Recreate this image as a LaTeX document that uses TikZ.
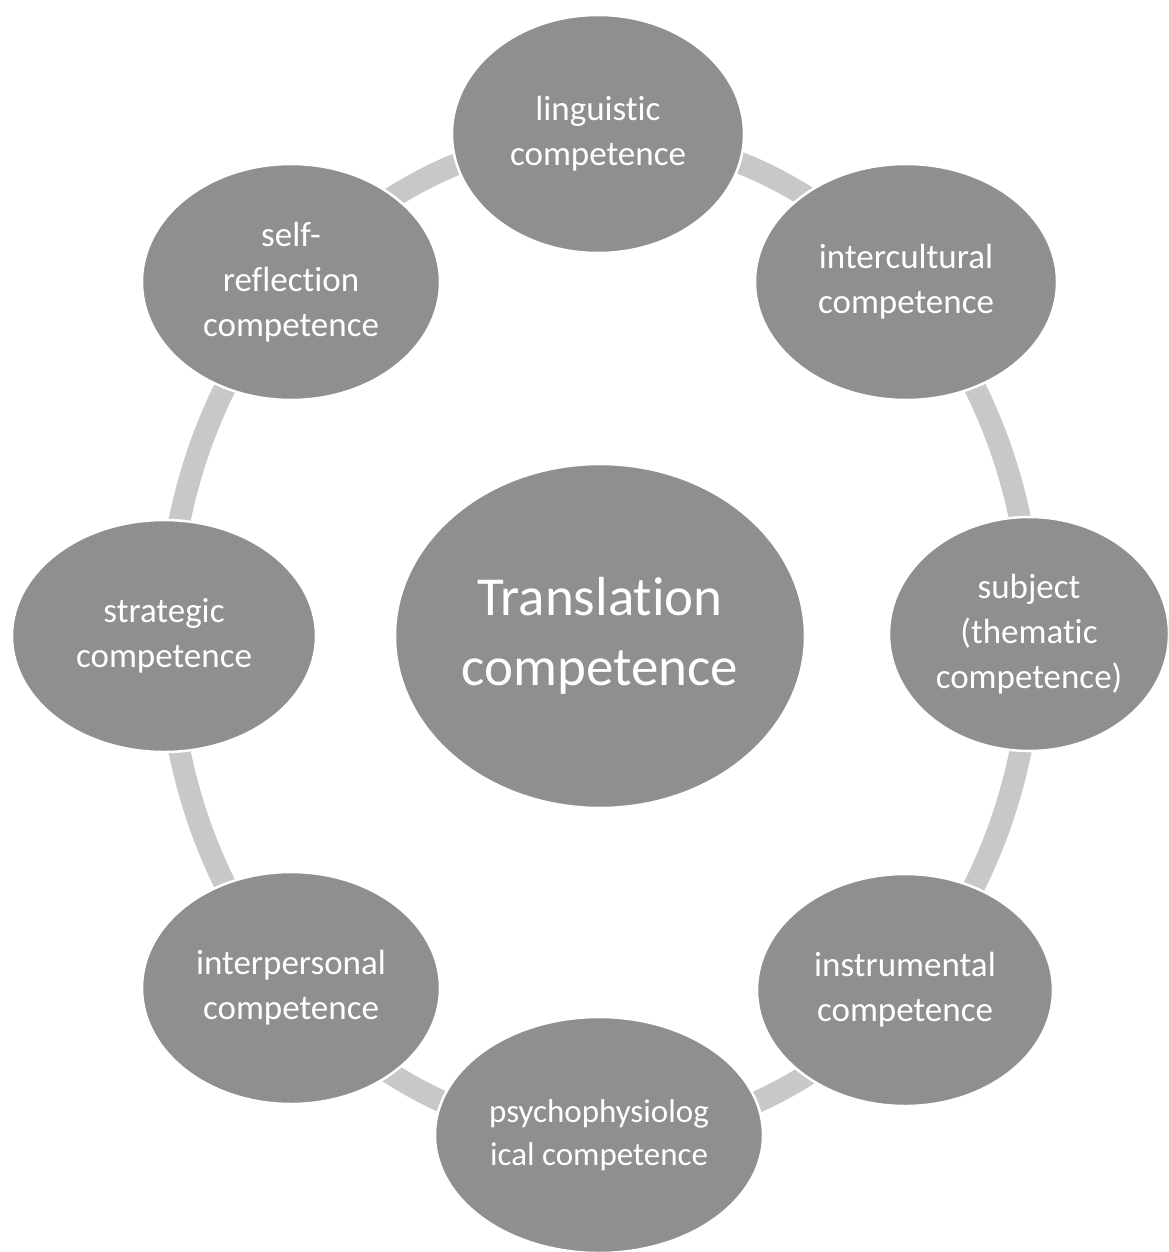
\documentclass[tikz,border=0pt]{standalone}
\usepackage{fontspec}
\setmainfont[Ligatures=NoCommon,RawFeature={-liga;-dlig;-clig}]{Carlito}
\usetikzlibrary{shapes.geometric,backgrounds}
\definecolor{nodefill}{HTML}{8F8F8F}
\definecolor{ringgray}{HTML}{C8C8C8}
\begin{document}
\begin{tikzpicture}[x=1pt,y=-1pt,
  comp/.style={ellipse, fill=nodefill, draw=white, line width=2.5pt, text=white,
    align=center, inner sep=0pt, font=\fontsize{35}{45}\selectfont},
  core/.style={comp, font=\fontsize{55}{70}\selectfont},
  ring/.style={draw=ringgray, line width=22pt}]
\useasboundingbox (0,0) rectangle (1168,1252);
\clip (0,0) rectangle (1168,1252);
\node[core, minimum width=410pt, minimum height=344pt] (tc) at (600,636) {Translation\\competence};
\node[comp, minimum width=292pt, minimum height=238pt] (lin) at (598,134) {linguistic\\competence};
\node[comp, minimum width=302pt, minimum height=236pt] (int) at (906,282) {intercultural\\competence};
\node[comp, minimum width=280pt, minimum height=234pt] (sub) at (1029,634) {subject\\(thematic\\competence)};
\node[comp, minimum width=296pt, minimum height=232pt] (ins) at (905,990) {instrumental\\competence};
\node[comp, minimum width=328pt, minimum height=236pt, font=\fontsize{33}{43}\selectfont] (psy) at (599,1135) {psychophysiolog\\ical competence};
\node[comp, minimum width=298pt, minimum height=232pt] (ipe) at (291,988) {interpersonal\\competence};
\node[comp, minimum width=304pt, minimum height=232pt] (str) at (164,636) {strategic\\competence};
\node[comp, minimum width=298pt, minimum height=236pt] (sel) at (291,282) {self-\\reflection\\competence};
\begin{pgfonlayer}{background}
\draw[ring] (tc.center) ellipse [x radius=432, y radius=500];
\end{pgfonlayer}
\end{tikzpicture}
\end{document}
